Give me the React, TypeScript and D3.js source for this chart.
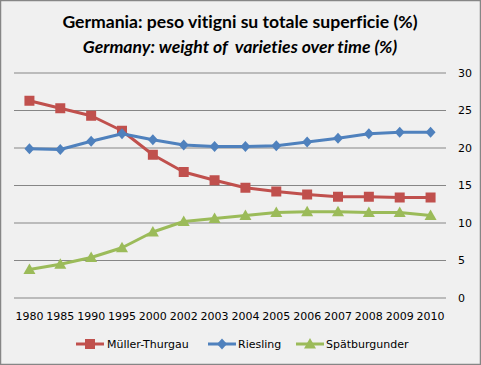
import * as d3 from "d3"

const years = ["1980", "1985", "1990", "1995", "2000", "2002", "2003", "2004", "2005", "2006", "2007", "2008", "2009", "2010"]
const mullerThurgau = [26.3, 25.3, 24.3, 22.3, 19.1, 16.8, 15.7, 14.7, 14.2, 13.8, 13.5, 13.5, 13.4, 13.4]
const riesling = [19.9, 19.8, 20.9, 21.9, 21.1, 20.4, 20.2, 20.2, 20.3, 20.8, 21.3, 21.9, 22.1, 22.1]
const spatburgunder = [3.8, 4.5, 5.4, 6.7, 8.8, 10.2, 10.6, 11.0, 11.4, 11.5, 11.5, 11.4, 11.4, 11.0]
const yTicks = [0, 5, 10, 15, 20, 25, 30]

const series = [
  { name: "Müller-Thurgau", values: mullerThurgau, color: "#C0504D", marker: "square" },
  { name: "Riesling", values: riesling, color: "#4F81BD", marker: "diamond" },
  { name: "Spätburgunder", values: spatburgunder, color: "#9BBB59", marker: "triangle" },
]

const width = 481
const height = 365
const plot = { left: 14, right: 446, top: 73, bottom: 298 }
const font = "'DejaVu Sans', sans-serif"

const x = d3.scalePoint<string>().domain(years).range([plot.left, plot.right]).padding(0.5)
const y = d3.scaleLinear().domain([0, 30]).range([plot.bottom, plot.top])

const lineGen = d3
  .line<number>()
  .x((_, i) => x(years[i]) ?? 0)
  .y((d) => y(d))

function Marker({ kind, cx, cy, color }: { kind: string; cx: number; cy: number; color: string }) {
  if (kind === "square") {
    return <rect x={cx - 5} y={cy - 5} width={10} height={10} fill={color} />
  }
  if (kind === "diamond") {
    return <path d={`M${cx},${cy - 5.5}L${cx + 5},${cy}L${cx},${cy + 5.5}L${cx - 5},${cy}Z`} fill={color} />
  }
  return <path d={`M${cx},${cy - 6}L${cx + 6},${cy + 4.5}L${cx - 6},${cy + 4.5}Z`} fill={color} />
}

const legendItems = [
  { lineX: 76, textX: 107 },
  { lineX: 208, textX: 238 },
  { lineX: 296, textX: 326 },
]

const titleStyle = { fontVariantLigatures: "none", whiteSpace: "pre" } as const

export default function App() {
  return (
    <svg width={width} height={height} style={{ display: "block", position: "absolute", left: 0, top: 0 }}>
      <rect x={0.5} y={0.5} width={width - 1} height={height - 1} fill="#f0f0f0" stroke="#868686" strokeWidth={1.5} />

      <text x={240} y={28} textAnchor="middle" fontFamily="Lato, sans-serif" fontWeight={700} fontSize={17.6} fill="#000" style={titleStyle}>
        Germania: peso vitigni su totale superficie (%)
      </text>
      <text
        x={240}
        y={53}
        textAnchor="middle"
        fontFamily="Lato, sans-serif"
        fontWeight={700}
        fontStyle="italic"
        fontSize={17.6}
        fill="#000"
        style={titleStyle}
      >
        {"Germany: weight of  varieties over time (%)"}
      </text>

      {yTicks.map((t) => (
        <g key={t}>
          <line x1={plot.left} x2={plot.right} y1={y(t)} y2={y(t)} stroke="#868686" strokeWidth={1} />
          <text x={458} y={y(t)} dy="0.35em" fontFamily={font} fontSize={11} fill="#000">
            {t}
          </text>
        </g>
      ))}

      {years.map((yr) => (
        <text key={yr} x={x(yr)} y={320} textAnchor="middle" fontFamily={font} fontSize={11} fill="#000">
          {yr}
        </text>
      ))}

      {series.map((s) => (
        <g key={s.name}>
          <path d={lineGen(s.values) ?? ""} fill="none" stroke={s.color} strokeWidth={3} strokeLinejoin="round" />
          {s.values.map((v, i) => (
            <Marker key={i} kind={s.marker} cx={x(years[i]) ?? 0} cy={y(v)} color={s.color} />
          ))}
        </g>
      ))}

      {series.map((s, i) => {
        const item = legendItems[i]
        return (
          <g key={s.name}>
            <line x1={item.lineX} x2={item.lineX + 28} y1={344} y2={344} stroke={s.color} strokeWidth={3} />
            <Marker kind={s.marker} cx={item.lineX + 14} cy={344} color={s.color} />
            <text x={item.textX} y={344} dy="0.35em" fontFamily={font} fontSize={11} fill="#000">
              {s.name}
            </text>
          </g>
        )
      })}
    </svg>
  )
}
